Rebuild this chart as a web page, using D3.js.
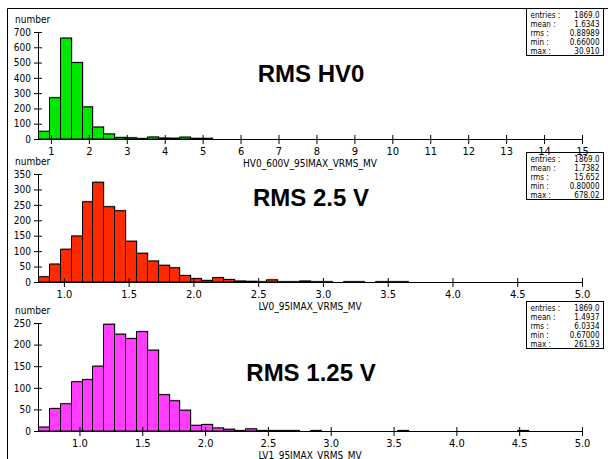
<!DOCTYPE html>
<html>
<head>
<meta charset="utf-8">
<script src="https://cdn.jsdelivr.net/npm/d3@7"></script>
<style>
    body { margin: 0; background: #fff; }
    svg { display: block; }
    text { font-family: "DejaVu Sans Condensed", "DejaVu Sans", sans-serif; fill: #000; }
    .title { font-family: "Liberation Sans", Arial, sans-serif; font-weight: bold; font-size: 24px; }
</style>
</head>
<body>
<svg id="chart" width="608" height="459"></svg>
<script>
// histogram counts, 50 bins each
const hv0Counts = [50, 270, 660, 500, 210, 78, 33, 10, 8, 3, 13, 6, 5, 12, 4, 4,
    0, 0, 0, 0, 0, 0, 0, 0, 0, 0, 0, 0, 0, 0, 0, 0, 0, 0, 0, 0, 0, 0, 0, 0, 0, 0, 0, 0, 0, 0, 0, 0, 0, 0];
const lv0Counts = [17, 58, 106, 149, 260, 323, 244, 231, 132, 93, 68, 54, 46, 21, 11, 5, 14, 8, 3, 2,
    1, 7, 1, 1, 3, 1, 1, 0, 1, 1, 0, 1, 1, 1, 0, 0, 0, 0, 0, 0, 0, 0, 0, 0, 0, 0, 0, 0, 0, 0];
const lv1Counts = [9, 52, 63, 114, 119, 150, 247, 224, 214, 230, 187, 84, 70, 48, 13, 15, 7, 4, 1, 5,
    1, 1, 1, 1, 0, 1, 0, 0, 0, 0, 0, 0, 0, 1, 0, 0, 0, 0, 0, 0, 0, 0, 0, 0, 1, 0, 0, 0, 0, 0];

// bin ranges (x axis ranges)
const hv0Range = [0.66, 15];
const lv0Range = [0.80, 5.0];
const lv1Range = [0.67, 5.0];

// tick values
const hv0XTicks = [1, 2, 3, 4, 5, 6, 7, 8, 9, 10, 11, 12, 13, 14, 15];
const lvXTicks = [1.0, 1.5, 2.0, 2.5, 3.0, 3.5, 4.0, 4.5, 5.0];
const hv0YTicks = [0, 100, 200, 300, 400, 500, 600, 700];
const lv0YTicks = [0, 50, 100, 150, 200, 250, 300, 350];
const lv1YTicks = [0, 50, 100, 150, 200, 250];

// stats boxes
const statLabels = ["entries :", "mean :", "rms :", "min :", "max :"];
const hv0Stats = ["1869.0", "1.6343", "0.88989", "0.66000", "30.910"];
const lv0Stats = ["1869.0", "1.7382", "15.652", "0.80000", "678.02"];
const lv1Stats = ["1869.0", "1.4937", "6.0334", "0.67000", "261.93"];

const titles = ["RMS HV0", "RMS 2.5 V", "RMS 1.25 V"];
const xLabels = ["HV0_600V_95IMAX_VRMS_MV", "LV0_95IMAX_VRMS_MV", "LV1_95IMAX_VRMS_MV"];

class histPanel {

    constructor({svg, top, bottom, left = 38, right = 582, statsTop}) {
        this.svg = svg;
        this.top = top;
        this.bottom = bottom;
        this.left = left;
        this.right = right;
        this.statsTop = statsTop;
    }

    draw({counts, range, xTicks, yTicks, fmt, color, title, xLabel, stats, titleY}) {
        const g = this.svg.append("g");
        const scaleX = d3.scaleLinear().domain(range).range([this.left, this.right]);
        const scaleY = d3.scaleLinear().domain([0, d3.max(yTicks)]).range([this.bottom, this.top]);
        const w = (range[1] - range[0]) / counts.length;

        const bins = counts.map((c, i) => ({x0: range[0] + i * w, x1: range[0] + (i + 1) * w, c}))
            .filter(d => d.c > 0);

        // shadow
        g.selectAll(".shadow").data(bins).enter().append("rect")
            .attr("class", "shadow")
            .attr("x", d => Math.round(scaleX(d.x0)) + 1.5)
            .attr("y", d => scaleY(d.c) - 1)
            .attr("width", d => Math.round(scaleX(d.x1)) - Math.round(scaleX(d.x0)))
            .attr("height", d => this.bottom - scaleY(d.c))
            .attr("fill", "#a8a8a8");

        g.selectAll(".bar").data(bins).enter().append("rect")
            .attr("class", "bar")
            .attr("x", d => Math.round(scaleX(d.x0)) + 0.5)
            .attr("y", d => scaleY(d.c))
            .attr("width", d => Math.round(scaleX(d.x1)) - Math.round(scaleX(d.x0)))
            .attr("height", d => this.bottom - scaleY(d.c))
            .attr("fill", color)
            .attr("stroke", "#000")
            .attr("stroke-width", 1);

        // x axis
        const axisX = d3.axisBottom(scaleX).tickValues(xTicks).tickSize(4).tickFormat(fmt);
        const axisXG = g.append("g").attr("transform", `translate(0,${this.bottom})`).call(axisX);
        axisXG.select(".domain").attr("d", `M${this.left},0.5H${this.right}`).attr("stroke", "#000");
        axisXG.selectAll(".tick line").attr("y1", -4).attr("y2", 5);
        axisXG.selectAll(".tick text").attr("y", 8).attr("dy", "0.71em")
            .style("font-family", '"DejaVu Sans Condensed", sans-serif').style("font-size", "11px");

        // y axis
        const axisY = d3.axisLeft(scaleY).tickValues(yTicks).tickSize(4).tickPadding(3);
        const axisYG = g.append("g").attr("transform", `translate(${this.left},0)`).call(axisY);
        axisYG.select(".domain").attr("d", `M0.5,${this.top}V${this.bottom}`).attr("stroke", "#000");
        axisYG.selectAll(".tick line").attr("x1", -4).attr("x2", 4);
        axisYG.selectAll(".tick text")
            .style("font-family", '"DejaVu Sans Condensed", sans-serif').style("font-size", "10px");

        g.append("text").attr("x", 15).attr("y", this.top - 9.5).style("font-size", "10px").text("number");

        g.append("text").attr("x", 310).attr("y", this.bottom + 28).attr("text-anchor", "middle")
            .style("font-size", "10px").text(xLabel);

        g.append("text").attr("class", "title").attr("x", 311).attr("y", titleY)
            .attr("text-anchor", "middle").text(title);

        this._drawStats(stats);
    }

    // stats box
    _drawStats(stats) {
        const box = this.svg.append("g").attr("transform", `translate(526.5,${this.statsTop + 0.5})`);
        box.append("rect").attr("width", 77).attr("height", 47)
            .attr("fill", "none").attr("stroke", "#000");
        statLabels.forEach((l, i) => {
            box.append("text").attr("x", 4).attr("y", 9 + i * 9).style("font-size", "8px").text(l);
            box.append("text").attr("x", 73).attr("y", 9 + i * 9).attr("text-anchor", "end")
                .style("font-size", "8px").text(stats[i]);
        });
    }
}

const svg = d3.select("#chart");

// outer frame
svg.append("path").attr("d", "M7.5,459V8.5H608").attr("fill", "none").attr("stroke", "#000");

const fmt1 = d => d3.format("d")(d);
const fmt2 = d => d3.format(".1f")(d);

new histPanel({svg, top: 32, bottom: 139, statsTop: 8}).draw({
    counts: hv0Counts, range: hv0Range, xTicks: hv0XTicks, yTicks: hv0YTicks, fmt: fmt1,
    color: "#00e800", title: titles[0], xLabel: xLabels[0], stats: hv0Stats, titleY: 82
});
new histPanel({svg, top: 174, bottom: 282, statsTop: 152}).draw({
    counts: lv0Counts, range: lv0Range, xTicks: lvXTicks, yTicks: lv0YTicks, fmt: fmt2,
    color: "#ff2a00", title: titles[1], xLabel: xLabels[1], stats: lv0Stats, titleY: 206
});
new histPanel({svg, top: 323, bottom: 431, statsTop: 301}).draw({
    counts: lv1Counts, range: lv1Range, xTicks: lvXTicks, yTicks: lv1YTicks, fmt: fmt2,
    color: "#ff3cff", title: titles[2], xLabel: xLabels[2], stats: lv1Stats, titleY: 381
});
</script>
</body>
</html>
